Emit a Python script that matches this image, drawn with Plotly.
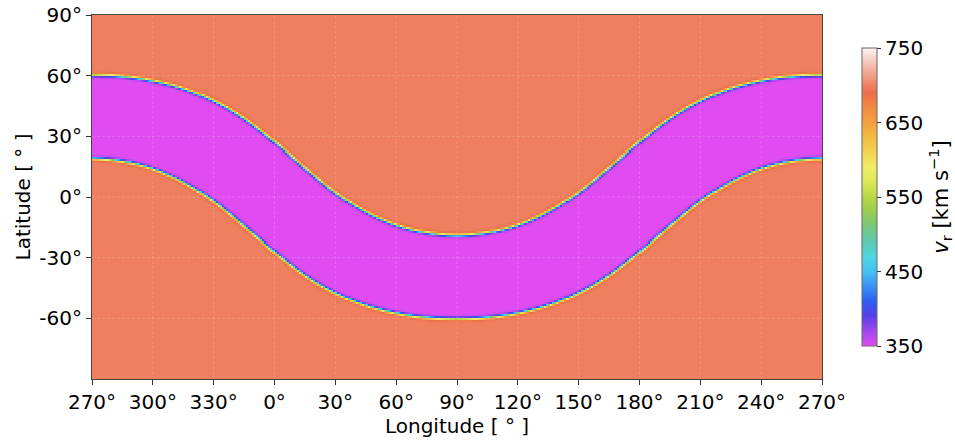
import numpy as np
import plotly.graph_objects as go

# Boundary of the slow-wind band (latitude, deg) sampled every 15 deg of longitude,
# starting at 270 deg and wrapping round to 255 deg.
lon_nodes = [270, 285, 300, 315, 330, 345, 0, 15, 30, 45, 60, 75,
             90, 105, 120, 135, 150, 165, 180, 195, 210, 225, 240, 255]
upper_lat = [60.4, 59.8, 57.6, 53.7, 47.6, 38.8, 27.2, 14.4, 2.2, -7.3, -14.0, -17.8,
             -19.1, -17.8, -14.0, -7.3, 2.2, 14.4, 27.2, 38.8, 47.6, 53.7, 57.6, 59.8]
lower_lat = [19.1, 17.8, 14.0, 7.3, -2.2, -14.4, -27.2, -38.8, -47.6, -53.7, -57.6, -59.8,
             -60.4, -59.8, -57.6, -53.7, -47.6, -38.8, -27.2, -14.4, -2.2, 7.3, 14.0, 17.8]

v_slow = 350.0   # km/s inside the band
v_fast = 700.0   # km/s outside the band
edge_width = 0.4  # deg, width of the slow/fast transition

cbar_ticks = [350, 450, 550, 650, 750]
x_ticks = list(range(270, 631, 30))
x_ticktext = [f"{v % 360}°" for v in x_ticks]
y_ticks = [90, 60, 30, 0, -30, -60]
y_ticktext = [f"{v}°" for v in y_ticks]

# Colour map for v_r, 350 -> 750 km/s
colorscale = [
    [0.00, "#e04cf2"], [0.05, "#a048ee"], [0.10, "#5a3fe6"], [0.15, "#2a5ff0"],
    [0.20, "#3a8ff4"], [0.25, "#45c0f2"], [0.30, "#4fd5e0"], [0.35, "#5ccab0"],
    [0.40, "#78c880"], [0.45, "#98cc50"], [0.50, "#b8d848"], [0.55, "#dce858"],
    [0.60, "#f0ea68"], [0.65, "#f2d450"], [0.70, "#f4bc42"], [0.75, "#f4a040"],
    [0.80, "#f08c45"], [0.85, "#ec6e4c"], [0.875, "#ef7f5f"], [0.90, "#f09a80"],
    [0.95, "#f4c4b8"], [1.00, "#fcf4f4"],
]


def periodic_spline(nodes, values, x):
    """Periodic Catmull-Rom curve through the sampled boundary; returns value and slope."""
    P = np.asarray(values, dtype=float)
    n = len(P)
    h = 360.0 / n
    off = (np.asarray(x) - nodes[0]) % 360.0
    i = np.floor(off / h).astype(int) % n
    t = off / h - np.floor(off / h)
    p0, p1, p2, p3 = P[(i - 1) % n], P[i], P[(i + 1) % n], P[(i + 2) % n]
    a = -p0 + p2
    b = 2 * p0 - 5 * p1 + 4 * p2 - p3
    c = -p0 + 3 * p1 - 3 * p2 + p3
    val = 0.5 * (2 * p1 + a * t + b * t ** 2 + c * t ** 3)
    slope = 0.5 * (a + 2 * b * t + 3 * c * t ** 2) / h
    return val, slope


# 1-degree grid, longitude unwrapped from 270 to 630
lon = np.arange(270.5, 630.0, 1.0)
lat = np.arange(-89.5, 90.0, 1.0)
up, s_up = periodic_spline(lon_nodes, upper_lat, lon)
lo, s_lo = periodic_spline(lon_nodes, lower_lat, lon)

LAT = lat[:, None]
d_up = (LAT - up[None, :]) / np.sqrt(1 + s_up[None, :] ** 2)
d_lo = (lo[None, :] - LAT) / np.sqrt(1 + s_lo[None, :] ** 2)
dist = np.maximum(d_up, d_lo)  # >0 outside the band, <0 inside
vr = v_slow + (v_fast - v_slow) / (1 + np.exp(-dist / edge_width))

fig = go.Figure()
fig.add_trace(go.Heatmap(
    x=lon, y=lat, z=vr,
    zmin=350, zmax=750, zsmooth=False,
    colorscale=colorscale,
    hoverinfo="skip",
    colorbar=dict(
        x=1.0548, xanchor="left", xref="paper", xpad=0,
        y=0.5, yanchor="middle", len=0.82, lenmode="fraction", ypad=0,
        thickness=15, thicknessmode="pixels",
        outlinewidth=1, outlinecolor="#666",
        tickvals=cbar_ticks, ticktext=[str(v) for v in cbar_ticks],
        ticks="outside", ticklen=4, tickcolor="#333",
        tickfont=dict(size=20, color="black", family="DejaVu Sans"),
        title=dict(text="<i>v</i><sub>r</sub> [km s<sup>−1</sup>]", side="right",
                   font=dict(size=21, color="black", family="DejaVu Sans")),
    ),
))

# faint dashed grid drawn on top of the map
grid = dict(color="rgba(255,255,255,0.22)", width=0.8, dash="3px,2px")
shapes = []
for xv in x_ticks[1:-1]:
    shapes.append(dict(type="line", xref="x", yref="paper", x0=xv, x1=xv, y0=0, y1=1,
                       line=grid, layer="above"))
for yv in y_ticks[1:]:
    shapes.append(dict(type="line", xref="paper", yref="y", x0=0, x1=1, y0=yv, y1=yv,
                       line=grid, layer="above"))

fig.update_layout(
    width=955, height=441,
    margin=dict(l=92, r=133, t=15, b=62, autoexpand=False),
    paper_bgcolor="white", plot_bgcolor="white",
    font=dict(family="DejaVu Sans", size=20, color="black"),
    shapes=shapes,
    xaxis=dict(
        range=[270, 630], tickvals=x_ticks, ticktext=x_ticktext,
        ticks="outside", ticklen=5, tickcolor="#333",
        showline=True, linecolor="#444", linewidth=1, mirror=True,
        showgrid=False, zeroline=False,
        tickfont=dict(size=20),
        title=dict(text="Longitude [ ° ]", font=dict(size=20), standoff=4),
    ),
    yaxis=dict(
        range=[-90, 90], tickvals=y_ticks, ticktext=y_ticktext,
        ticks="outside", ticklen=5, tickcolor="#333",
        showline=True, linecolor="#444", linewidth=1, mirror=True,
        showgrid=False, zeroline=False,
        tickfont=dict(size=20),
        title=dict(text="Latitude [ ° ]", font=dict(size=20), standoff=3),
    ),
)

fig.write_html("out.html")
